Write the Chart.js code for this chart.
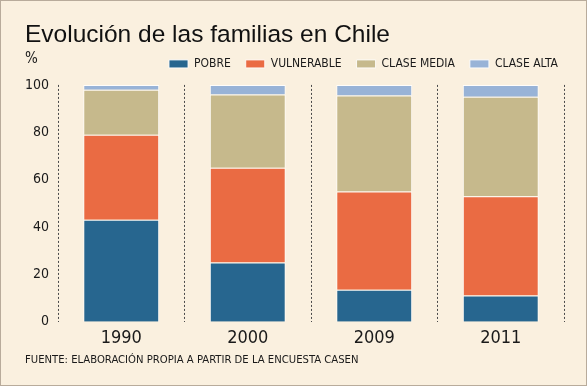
<!DOCTYPE html>
<html>
<head>
<meta charset="utf-8">
<script src="https://cdn.jsdelivr.net/npm/chart.js@4/dist/chart.umd.min.js"></script>
<style>
  html, body { margin: 0; padding: 0; background: #FAF0DF; }
  #wrap { width: 587px; height: 386px; box-sizing: border-box; border: 1px solid #B8AB9B; background: #FAF0DF; }
  canvas { display: block; }
</style>
</head>
<body>
<div id="wrap"><canvas id="c" width="585" height="384"></canvas></div>
<script>
const categories = ['1990', '2000', '2009', '2011'];
const pobre = [43, 25, 13.5, 11];
const vulnerable = [36, 40, 41.5, 42];
const claseMedia = [19, 31, 40.5, 42];
const claseAlta = [2, 4, 4.5, 5];
const seriesNames = ['POBRE', 'VULNERABLE', 'CLASE MEDIA', 'CLASE ALTA'];
const seriesColors = ['#27668F', '#EA6B43', '#C6B98C', '#98B3D7'];
const titleText = 'Evolución de las familias en Chile';
const footerText = 'FUENTE: ELABORACIÓN PROPIA A PARTIR DE LA ENCUESTA CASEN';
const unitLabel = '%';

const NARROW = "'DejaVu Sans Condensed', 'DejaVu Sans', sans-serif";
const SANS = "'Liberation Sans', Arial, sans-serif";

const percentPlugin = {
  id: 'percentLabel',
  afterDraw(chart) {
    const ctx = chart.ctx;
    ctx.save();
    ctx.font = '15px ' + NARROW;
    ctx.fillStyle = '#1a1a1a';
    ctx.textAlign = 'left';
    ctx.textBaseline = 'middle';
    ctx.fillText(unitLabel, 24, 58);
    ctx.restore();
  }
};

const values = [pobre, vulnerable, claseMedia, claseAlta];
new Chart(document.getElementById('c'), {
  type: 'bar',
  data: {
    labels: categories,
    datasets: seriesNames.map((n, i) => ({
      label: n,
      data: values[i],
      backgroundColor: seriesColors[i],
      borderColor: 'rgba(255,255,255,0.85)',
      borderWidth: 1,
      categoryPercentage: 1,
      barPercentage: 0.6
    }))
  },
  options: {
    responsive: false,
    animation: false,
    layout: { padding: { left: 24, right: 13, top: 0, bottom: 8 } },
    plugins: {
      title: {
        display: true, text: titleText, align: 'start', color: '#111',
        font: { family: SANS, size: 24.5, weight: 'normal', lineHeight: 0.65 },
        padding: { top: 26, bottom: 0 }
      },
      subtitle: {
        display: true, text: footerText, position: 'bottom', align: 'start', color: '#1a1a1a',
        font: { family: NARROW, size: 11.2, weight: 'normal', lineHeight: 1.2 },
        padding: { top: 3.9, bottom: 10 }
      },
      legend: {
        display: true, position: 'top', align: 'end',
        labels: {
          boxWidth: 19, boxHeight: 8, padding: 15, color: '#1a1a1a',
          font: { family: NARROW, size: 12 }
        }
      },
      tooltip: { enabled: false }
    },
    scales: {
      x: {
        stacked: true,
        grid: { display: true, offset: true, drawTicks: false, color: '#4a4a4a', lineWidth: 1 },
        border: { display: false, dash: [2, 2] },
        ticks: { color: '#1a1a1a', padding: 6, font: { family: NARROW, size: 18 } },
        afterFit(s) { s.height = 28; }
      },
      xTop: {
        position: 'top', display: true,
        grid: { display: false, drawTicks: false },
        border: { display: false },
        ticks: { display: false },
        afterFit(s) { s.height = 5; }
      },
      y: {
        stacked: true, min: 0, max: 100,
        grid: { display: false, drawTicks: false },
        border: { display: false },
        ticks: { stepSize: 20, color: '#1a1a1a', padding: 9, font: { family: NARROW, size: 14 } },
        afterFit(s) { s.width = 33; }
      },
      yRight: {
        position: 'right', display: true, min: 0, max: 100,
        grid: { display: false, drawTicks: false },
        border: { display: false },
        ticks: { display: false },
        afterFit(s) { s.width = 9; }
      }
    }
  },
  plugins: [percentPlugin]
});
</script>
</body>
</html>
